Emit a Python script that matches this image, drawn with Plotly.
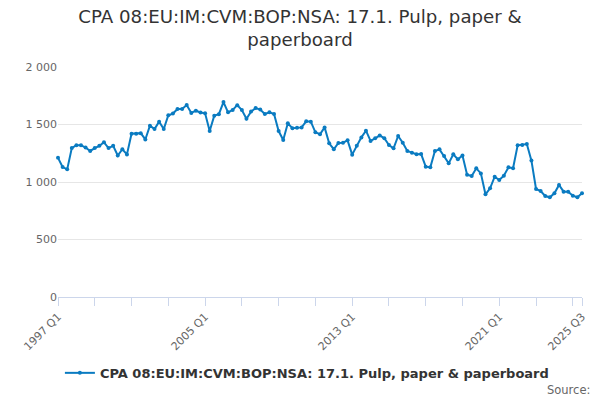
import plotly.graph_objs as go

# quarterly values, 1997 Q1 .. 2025 Q3
start_year = 1997
values = [
    1210, 1130, 1110, 1295, 1320, 1320, 1300, 1270,
    1295, 1315, 1345, 1295, 1315, 1230, 1285, 1240,
    1420, 1420, 1425, 1370, 1490, 1460, 1525, 1460,
    1580, 1595, 1635, 1635, 1670, 1600, 1620, 1605,
    1597, 1443, 1577, 1590, 1695, 1606, 1626, 1668,
    1626, 1550, 1612, 1643, 1630, 1591, 1606, 1591,
    1443, 1365, 1510, 1467, 1472, 1475, 1528, 1525,
    1432, 1415, 1475, 1336, 1285, 1339, 1342, 1362,
    1238, 1315, 1388, 1446, 1357, 1380, 1405, 1380,
    1322, 1293, 1400, 1342, 1270, 1255, 1241, 1243,
    1133, 1128, 1270, 1284, 1226, 1162, 1241, 1197,
    1230, 1064, 1052, 1119, 1075, 893, 945, 1046,
    1017, 1055, 1128, 1119, 1319, 1322, 1330, 1186,
    939, 922, 878, 867, 902, 974, 916, 916,
    881, 867, 902,
]
quarters = ['%d Q%d' % (start_year + i // 4, i % 4 + 1) for i in range(len(values))]

labelled = ['1997 Q1', '2005 Q1', '2013 Q1', '2021 Q1', '2025 Q3']
tick_vals = quarters[::8] + [quarters[-1]]
tick_text = [q if q in labelled else '' for q in tick_vals]

y_vals = [0, 500, 1000, 1500, 2000]
y_text = ['0', '500', '1 000', '1 500', '2 000']

series_name = 'CPA 08:EU:IM:CVM:BOP:NSA: 17.1. Pulp, paper & paperboard'
font = 'DejaVu Sans, Verdana, sans-serif'

fig = go.Figure()
fig.add_trace(go.Scatter(
    x=quarters,
    y=values,
    mode='lines+markers',
    name=series_name,
    line=dict(color='#0a7bc1', width=2),
    marker=dict(color='#0a7bc1', size=4),
    cliponaxis=False
))

fig.update_layout(
    width=600,
    height=400,
    margin=dict(l=58, r=18, t=67, b=103),
    paper_bgcolor='white',
    plot_bgcolor='white',
    font=dict(family=font, color='#666666', size=11),
    title=dict(
        text='CPA 08:EU:IM:CVM:BOP:NSA: 17.1. Pulp, paper &amp;<br>paperboard',
        x=0.5,
        xanchor='center',
        y=0.943,
        yanchor='middle',
        font=dict(family=font, size=18.2, color='#333333')
    ),
    xaxis=dict(
        type='category',
        range=[0, len(values) - 1],
        tickmode='array',
        tickvals=tick_vals,
        ticktext=tick_text,
        tickangle=-45,
        ticks='outside',
        ticklen=8,
        tickcolor='#ccd6eb',
        showline=True,
        linecolor='#ccd6eb',
        linewidth=1,
        showgrid=False,
        zeroline=False,
        tickfont=dict(size=11, color='#666666')
    ),
    yaxis=dict(
        range=[0, 2000],
        tickmode='array',
        tickvals=y_vals,
        ticktext=y_text,
        showgrid=True,
        gridcolor='#e6e6e6',
        zeroline=False,
        showline=False,
        ticks='',
        tickfont=dict(size=11, color='#666666')
    ),
    showlegend=True,
    legend=dict(
        orientation='h',
        x=0.475,
        xanchor='center',
        y=-0.33,
        yanchor='middle',
        font=dict(family=font, size=13, color='#333333', weight='bold'),
        bgcolor='rgba(0,0,0,0)'
    ),
    annotations=[dict(
        text='Source:',
        xref='paper', yref='paper',
        x=1.02, y=-0.405,
        xanchor='right', yanchor='middle',
        showarrow=False,
        font=dict(family=font, size=11.5, color='#666666')
    )]
)

# drop the default body margin so the 600x400 figure sits at the window origin
fig.write_html("out.html", config={'displayModeBar': False},
               post_script="document.body.style.margin = '0';")
